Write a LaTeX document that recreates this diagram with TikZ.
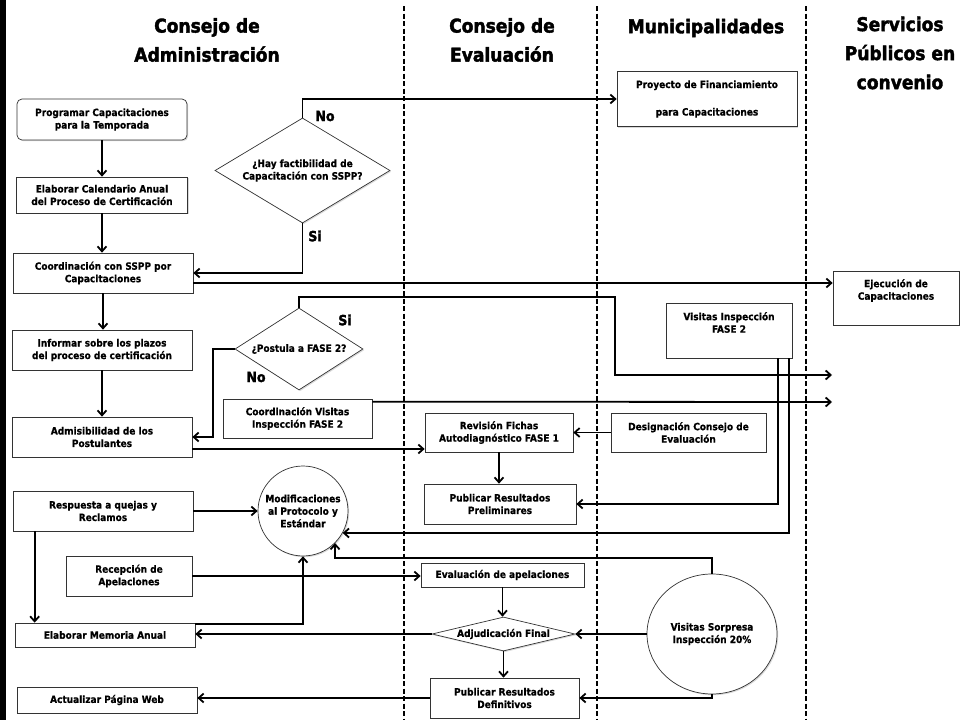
\documentclass[tikz,border=0pt]{standalone}
\usepackage{fontspec}
\newfontfamily\flowfont{DejaVu Sans Condensed Bold}[FakeBold=0.6]
\newfontfamily\headfont{DejaVu Sans Condensed Bold}[FakeBold=2]
\usetikzlibrary{arrows.meta, shapes.geometric, shadows}

\begin{document}
\begin{tikzpicture}[
        x=1pt,
        y=-1pt,
        box-text/.style={
            align=center,
            font=\flowfont\fontsize{10}{12.5}\selectfont,
        },
        box/.style={
            box-text,
            draw=black!80,
            line width=0.7pt,
            fill=white,
            inner sep=1pt,
            drop shadow={shadow xshift=1.2pt, shadow yshift=-1.2pt, opacity=0.3},
        },
        decision/.style={
            box,
            diamond,
            inner sep=0pt,
        },
        event/.style={
            box,
            circle,
            inner sep=0pt,
        },
        header/.style={
            align=center,
            font=\headfont\fontsize{19}{29}\selectfont,
        },
        answer/.style={
            font=\headfont\fontsize{14}{14}\selectfont,
        },
        link/.style={
            line width=1.8pt,
            -{Straight Barb[length=5pt, width=9pt]},
        },
        lane/.style={
            line width=1.4pt,
            dash pattern=on 5pt off 2.5pt,
        },
    ]
    \useasboundingbox (0, 0) rectangle (964, 720);
    \fill (0, 0) rectangle (6, 720);

    % Column headings.
    \node[header] (h-admin) at (207, 40) {Consejo de\\Administración};
    \node[header] (h-eval) at (502, 40) {Consejo de\\Evaluación};
    \node[header] (h-muni) at (706, 28) {Municipalidades};
    \node[header] (h-serv) at (900, 53) {Servicios\\Públicos en\\convenio};

    % Lane separators.
    \foreach \x in {404, 597, 806}
    \draw[lane] (\x, 6) -- (\x, 720);

    % Consejo de Administracion.
    \node[box, rounded corners=5pt, minimum width=170pt, minimum height=41pt] (prog) at (102, 119.5) {Programar Capacitaciones\\para la Temporada};
    \node[box, minimum width=171pt, minimum height=36pt] (calend) at (102, 195) {Elaborar Calendario Anual\\del Proceso de Certificación};
    \node[box, minimum width=180pt, minimum height=40pt] (coord-sspp) at (103, 273) {Coordinación con SSPP por\\Capacitaciones};
    \node[box, minimum width=180pt, minimum height=40pt] (informar) at (102, 350) {Informar sobre los plazos\\del proceso de certificación};
    \node[box, minimum width=180pt, minimum height=40pt] (admis) at (102, 437) {Admisibilidad de los\\Postulantes};
    \node[box, minimum width=180pt, minimum height=40pt] (respuesta) at (103, 511) {Respuesta a quejas y\\Reclamos};
    \node[box, minimum width=126pt, minimum height=40pt] (recepcion) at (129, 576) {Recepción de\\Apelaciones};
    \node[box, minimum width=180pt, minimum height=24pt] (memoria) at (105, 635) {Elaborar Memoria Anual};
    \node[box, minimum width=180pt, minimum height=26pt] (web) at (107, 700) {Actualizar Página Web};

    \node[decision, aspect=1.67, minimum width=175pt, minimum height=105pt] (factib) at (302.5, 170.5) {¿Hay factibilidad de\\Capacitación con SSPP?};
    \node[decision, aspect=1.56, minimum width=128pt, minimum height=82pt] (postula) at (299, 349) {¿Postula a FASE 2?};
    \node[box, minimum width=149pt, minimum height=39pt] (coord-vis) at (297.5, 418.5) {Coordinación Visitas\\Inspección FASE 2};
    \node[event, minimum size=90pt] (modif) at (303, 511) {Modificaciones\\al Protocolo y\\Estándar};

    \node[answer] (no-a) at (325, 116) {No};
    \node[answer] (si-a) at (315, 236) {Si};
    \node[answer] (si-b) at (345, 320) {Si};
    \node[answer] (no-b) at (256, 377) {No};

    % Consejo de Evaluacion.
    \node[box, minimum width=148pt, minimum height=39pt] (revision) at (499, 432.5) {Revisión Fichas\\Autodiagnóstico FASE 1};
    \node[box, minimum width=152pt, minimum height=40pt] (publ-prel) at (500, 504) {Publicar Resultados\\Preliminares};
    \node[box, minimum width=163pt, minimum height=24pt] (eval-apel) at (502.5, 575) {Evaluación de apelaciones};
    \node[decision, aspect=4.2, minimum width=143pt, minimum height=34pt] (adjud) at (503.5, 634) {Adjudicación Final};
    \node[box, minimum width=149pt, minimum height=40pt] (publ-def) at (504.5, 698) {Publicar Resultados\\Definitivos};

    % Municipalidades.
    \node[box, minimum width=180pt, minimum height=55pt] (proyecto) at (707, 99) {Proyecto de Financiamiento\\[15pt]para Capacitaciones};
    \node[box, minimum width=126pt, minimum height=55pt,
        label={[box-text, anchor=north, yshift=-6pt]north:{Visitas Inspección\\FASE 2}}] (visitas) at (729, 330.5) {};
    \node[box, minimum width=155pt, minimum height=39pt] (designacion) at (688.5, 432.5) {Designación Consejo de\\Evaluación};
    \node[box, ellipse, inner sep=0pt, minimum width=130pt, minimum height=120pt] (sorpresa) at (712, 634) {Visitas Sorpresa\\Inspección 20\%};

    % Servicios Publicos en convenio.
    \node[box, minimum width=126pt, minimum height=54pt,
        label={[box-text, anchor=north, yshift=-5pt]north:{Ejecución de\\Capacitaciones}}] (ejecucion) at (896, 298) {};
    \coordinate (out-a) at (832, 375);
    \coordinate (out-b) at (832, 402);

    % Main sequence.
    \draw[link] (prog.south) -- (prog.south |- calend.north);
    \draw[link] (calend.south) -- (calend.south |- coord-sspp.north);
    \draw[link] (coord-sspp.south) -- (coord-sspp.south |- informar.north);
    \draw[link] (informar.south) -- (informar.south |- admis.north);

    % Decisions.
    \draw[link] (factib.north) |- (proyecto.west);
    \draw[link] (factib.south) |- (coord-sspp.east);
    \draw[link] ([yshift=-10pt]coord-sspp.east) -- ([yshift=-10pt]coord-sspp.east -| ejecucion.west);
    \draw[link] (postula.north) |- (615, 297) |- (out-a);
    \draw[link] (postula.west) -- (213, 349) |- (admis.east);
    \draw[link] ([yshift=-3pt]coord-vis.north east) -- (out-b);

    % First phase.
    \draw[link] ([yshift=-12pt]admis.east) -- ([yshift=-12pt]admis.east -| revision.west);
    \draw[link] (designacion.west) -- (revision.east);
    \draw[link] (revision.south) -- (revision.south |- publ-prel.north);
    \draw[link] ([xshift=49pt]visitas.south) |- (publ-prel.east);
    \draw[link] ([xshift=60pt]visitas.south) |- (modif.-29);
    \draw[link] (sorpresa.north) -- ++(0, -16) -| (modif.-45);

    % Appeals and closing.
    \draw[link] (respuesta.east) -- (modif.west);
    \draw[link] ([xshift=22pt]respuesta.south west) -- ([xshift=22pt]respuesta.south west |- memoria.north);
    \draw[link] (recepcion.east) -- (recepcion.east -| eval-apel.west);
    \draw[link] ([yshift=-1pt]memoria.north east) -| (modif.south);
    \draw[link] (eval-apel.south) -- (eval-apel.south |- adjud.north);
    \draw[link] (adjud.west) -- (adjud.west -| memoria.east);
    \draw[link] (sorpresa.west) -- (adjud.east);
    \draw[link] (adjud.south) -- (adjud.south |- publ-def.north);
    \draw[link] (sorpresa.south) |- (publ-def.east);
    \draw[link] (publ-def.west) -- (publ-def.west -| web.east);
\end{tikzpicture}
\end{document}
